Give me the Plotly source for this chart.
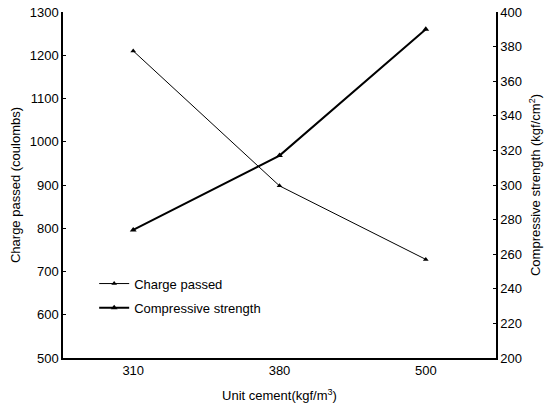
import plotly.graph_objects as go

categories = ["310", "380", "500"]
charge_passed = [1210, 898, 728]
compressive_strength = [274, 317, 390]

left_ticks = [500, 600, 700, 800, 900, 1000, 1100, 1200, 1300]
right_ticks = [200, 220, 240, 260, 280, 300, 320, 340, 360, 380, 400]

FONT = "Liberation Sans, Arial, sans-serif"
xs = [0, 1, 2]

fig = go.Figure()
fig.add_trace(go.Scatter(
    x=xs, y=charge_passed, name="Charge passed", mode="lines+markers",
    line=dict(color="black", width=1),
    marker=dict(symbol="triangle-up", size=5, color="black"),
    yaxis="y", legend="legend",
))
fig.add_trace(go.Scatter(
    x=xs, y=compressive_strength, name="Compressive strength", mode="lines+markers",
    line=dict(color="black", width=2),
    marker=dict(symbol="triangle-up", size=6, color="black"),
    yaxis="y2", legend="legend2",
))

fig.update_layout(
    width=552, height=409,
    margin=dict(l=63, r=56, t=12, b=51),
    paper_bgcolor="white", plot_bgcolor="white",
    font=dict(family=FONT, size=13, color="black"),
    xaxis=dict(
        range=[-0.48, 2.48], tickmode="array", tickvals=xs, ticktext=categories,
        showline=True, linecolor="black", linewidth=1.5, showgrid=False,
        zeroline=False, ticks="", ticklen=0, automargin=False,
        title=dict(text="Unit cement(kgf/m<sup>3</sup>)", standoff=14,
                   font=dict(size=13)),
        tickfont=dict(size=13),
    ),
    yaxis=dict(
        range=[500, 1300], tickmode="array", tickvals=left_ticks,
        showline=True, linecolor="black", linewidth=1.5, showgrid=False,
        zeroline=False, ticks="inside", ticklen=3, tickcolor="black",
        automargin=False, ticklabeloverflow="allow",
        title=dict(text="Charge passed (coulombs)", standoff=6,
                   font=dict(size=13)),
        tickfont=dict(size=13),
    ),
    yaxis2=dict(
        range=[200, 400], tickmode="array", tickvals=right_ticks,
        overlaying="y", side="right",
        showline=True, linecolor="black", linewidth=1.5, showgrid=False,
        zeroline=False, ticks="inside", ticklen=3, tickcolor="black",
        automargin=False, ticklabeloverflow="allow",
        title=dict(text="Compressive strength (kgf/cm<sup>2</sup>)", standoff=10,
                   font=dict(size=13)),
        tickfont=dict(size=13),
    ),
    legend=dict(x=0.072, y=0.215, xanchor="left", yanchor="middle",
                bgcolor="rgba(0,0,0,0)", itemwidth=30,
                font=dict(size=13, family=FONT)),
    legend2=dict(x=0.072, y=0.145, xanchor="left", yanchor="middle",
                 bgcolor="rgba(0,0,0,0)", itemwidth=30,
                 font=dict(size=13, family=FONT)),
    showlegend=True,
)

fig.write_html("out.html",
               config={"displayModeBar": False},
               post_script="document.body.style.margin='0';document.body.style.overflow='hidden';")
